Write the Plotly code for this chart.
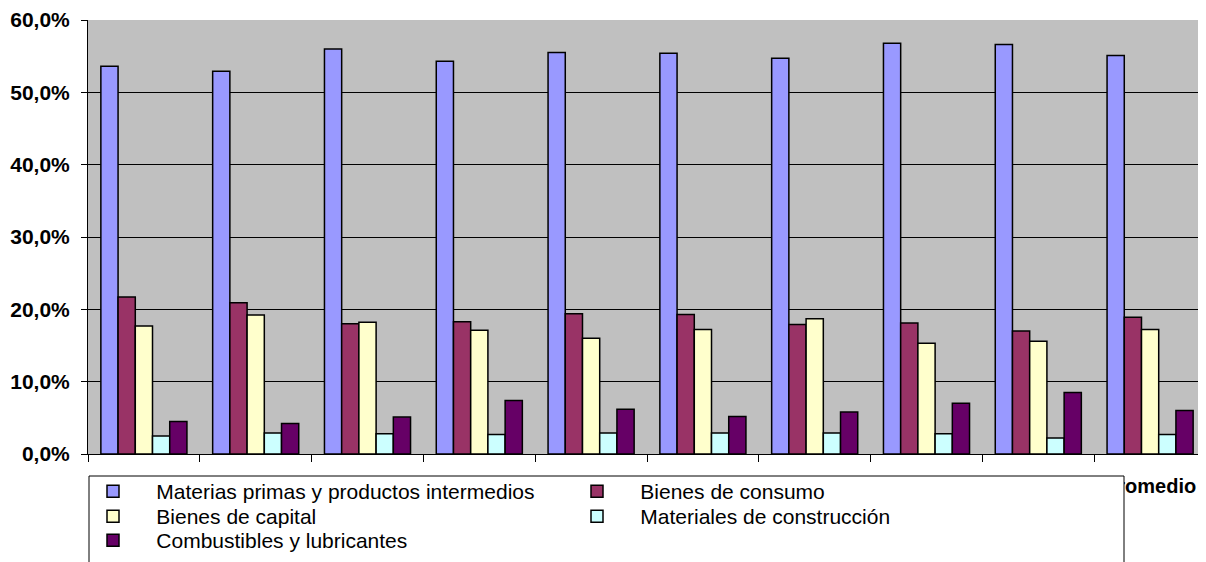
import plotly.graph_objects as go

categories = ["1996", "1997", "1998", "1999", "2000", "2001", "2002", "2003", "2004", "Promedio"]
x_tick_text = ["", "", "", "", "", "", "", "", "", "Promedio"]
series_names = [
    "Materias primas y productos intermedios",
    "Bienes de consumo",
    "Bienes de capital",
    "Materiales de construcción",
    "Combustibles y lubricantes",
]
materias = [53.6, 52.9, 56.0, 54.3, 55.5, 55.4, 54.7, 56.8, 56.6, 55.1]
consumo = [21.7, 20.9, 18.0, 18.3, 19.4, 19.3, 17.9, 18.1, 17.0, 18.9]
capital = [17.7, 19.2, 18.2, 17.1, 16.0, 17.2, 18.7, 15.3, 15.6, 17.2]
construccion = [2.5, 2.9, 2.8, 2.7, 2.9, 2.9, 2.9, 2.8, 2.2, 2.7]
combustibles = [4.5, 4.2, 5.1, 7.4, 6.2, 5.2, 5.8, 7.0, 8.5, 6.0]
y_ticks = [0, 10, 20, 30, 40, 50, 60]
y_tick_text = ["0,0%", "10,0%", "20,0%", "30,0%", "40,0%", "50,0%", "60,0%"]

colors = ["#9999FF", "#993366", "#FFFFCC", "#CCFFFF", "#660066"]
values = [materias, consumo, capital, construccion, combustibles]
legend_rows = ["legend", "legend", "legend2", "legend2", "legend3"]

fig = go.Figure()
for name, vals, col, lg in zip(series_names, values, colors, legend_rows):
    fig.add_trace(go.Bar(
        x=categories, y=vals, name="\u00a0" * 4 + name, legend=lg,
        marker=dict(color=col, line=dict(color="black", width=1.5)),
    ))

W, H = 1206, 562
OFF = 8  # page body offset
ml, mr, mt, mb = 80, 8, 12, 116
pw, ph = W - ml - mr, H - mt - mb

def px_x(px):
    return (px - OFF - ml) / pw

def px_y(py):
    return (H - mb - (py - OFF)) / ph

legend_font = dict(size=21, family="Liberation Sans, Arial, sans-serif")

def row_legend(top_px):
    return dict(
        orientation="h", x=px_x(93), xanchor="left", y=px_y(top_px), yanchor="top",
        entrywidth=439, entrywidthmode="pixels",
        bgcolor="rgba(0,0,0,0)", borderwidth=0,
        font=legend_font, traceorder="normal",
    )

fig.update_layout(
    width=W, height=H,
    margin=dict(l=ml, r=mr, t=mt, b=mb, pad=0, autoexpand=False),
    paper_bgcolor="white",
    plot_bgcolor="#C0C0C0",
    barmode="group",
    bargap=0.23,
    bargroupgap=0,
    font=dict(family="Liberation Sans, Arial, sans-serif", color="black"),
    xaxis=dict(
        tickmode="array", tickvals=categories, ticktext=x_tick_text,
        showgrid=False, showline=True, linecolor="black", linewidth=1,
        ticks="outside", tickson="boundaries", ticklen=7, tickcolor="black",
        tickfont=dict(size=20, family="Liberation Sans, Arial, sans-serif", weight="bold"),
        ticklabelstandoff=14,
    ),
    yaxis=dict(
        range=[0, 60], tickmode="array", tickvals=y_ticks, ticktext=y_tick_text,
        showgrid=True, gridcolor="black", gridwidth=1,
        showline=True, linecolor="black", linewidth=1, zeroline=False,
        ticks="outside", ticklen=6, tickcolor="black",
        tickfont=dict(size=21, family="Liberation Sans, Arial, sans-serif", weight="bold"),
        ticklabelstandoff=7,
    ),
    legend=row_legend(471),
    legend2=row_legend(496),
    legend3=row_legend(520),
    shapes=[dict(
        type="rect", xref="paper", yref="paper",
        x0=px_x(89), x1=px_x(1124), y0=px_y(580), y1=px_y(476),
        fillcolor="white", line=dict(color="black", width=1), layer="above",
    )],
)

fig.write_html("out.html")
